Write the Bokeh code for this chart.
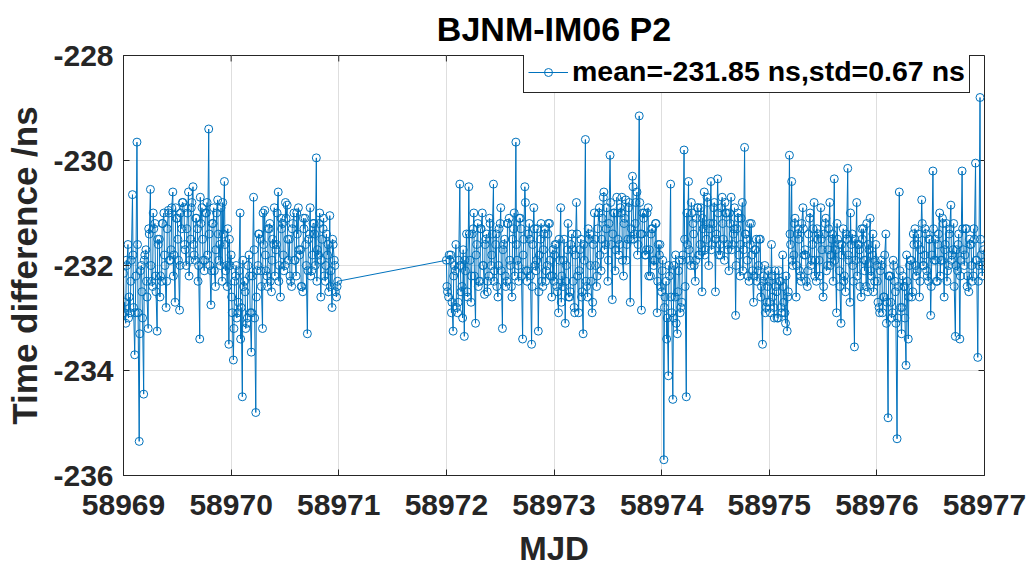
import numpy as np
from bokeh.plotting import figure
from bokeh.models import (Range1d, FixedTicker, NumeralTickFormatter, Legend, LegendItem)
from bokeh.embed import file_html
from bokeh.resources import INLINE

# ---------------- data ----------------
TITLE = "BJNM-IM06 P2"
X_LABEL = "MJD"
Y_LABEL = "Time difference /ns"
LEGEND_LABEL = "mean=-231.85 ns,std=0.67 ns"
X_TICKS = [58969, 58970, 58971, 58972, 58973, 58974, 58975, 58976, 58977]
Y_TICKS = [-236, -234, -232, -230, -228]

SAMPLES_PER_DAY = 96          # main readings, every 15 min
EXTRA_PER_DAY = 48            # additional readings inside the dense band
EXTRA_PHASE = 0.25            # position of the additional readings within their slot
SEG1_START = 58969.0          # first block of data (MJD)
SEG2_START = 58972.0          # second block of data (MJD)

SEG1_VALUES = [
    # MJD 58969
    -232.15, -232.7, -233.1, -232.0, -231.6, -232.6, -232.9, -231.9, -230.65, -232.8,
    -233.7, -232.2, -229.65, -232.9, -235.35, -232.1, -232.0, -233.0, -234.45, -231.8,
    -231.7, -232.6, -233.2, -231.4, -230.55, -232.3, -232.4, -231.3, -231.2, -232.5,
    -233.25, -231.6, -231.5, -232.2, -232.3, -231.2, -231.0, -232.0, -232.8, -231.3,
    -230.95, -231.9, -231.9, -230.9, -230.6, -231.8, -232.7, -231.1, -231.1, -231.9,
    -232.85, -231.0, -231.3, -230.8, -230.9, -231.7, -232.0, -231.0, -230.6, -231.9,
    -231.5, -230.8, -230.5, -231.8, -231.9, -231.1, -231.3, -232.0, -233.4, -231.2,
    -230.9, -231.9, -232.1, -231.0, -231.0, -231.8, -229.4, -232.0, -232.75, -231.2,
    -231.2, -232.1, -232.4, -231.0, -230.75, -231.9, -231.6, -230.9, -232.3, -231.4,
    -230.4, -232.1, -232.0, -231.3, -233.5, -232.0,
    # MJD 58970
    -231.8, -232.9, -233.8, -232.3, -232.2, -233.0, -232.9, -232.1, -231.0, -232.8,
    -234.5, -232.4, -232.3, -233.2, -233.1, -232.0, -231.8, -232.9, -233.65, -232.2,
    -230.7, -233.0, -234.8, -232.1, -232.0, -231.4, -231.5, -232.4, -233.2, -231.6,
    -230.95, -232.1, -232.2, -231.3, -231.3, -232.3, -232.5, -231.5, -231.6, -232.2,
    -231.7, -231.0, -230.6, -232.0, -232.6, -231.3, -231.2, -232.1, -232.0, -231.1,
    -230.85, -231.9, -231.5, -232.3, -232.4, -231.2, -231.0, -231.9, -232.2, -231.4,
    -230.9, -231.8, -231.7, -232.4, -232.5, -231.3, -231.1, -232.0, -233.3, -231.5,
    -231.4, -232.2, -232.1, -231.2, -231.2, -232.0, -229.95, -231.7, -231.8, -231.0,
    -232.6, -231.5, -231.3, -232.2, -232.3, -231.4, -231.8, -232.5, -231.05, -232.1,
    -232.8, -231.6, -231.9, -232.5, -232.6, -232.3,
]

SEG1_EXTRA = [
    # MJD 58969
    -232.9, -231.9, -233.0, -232.3, -231.8, -232.9, -231.6, -233.3, -232.5, -231.9,
    -232.3, -231.3, -232.0, -231.0, -232.2, -231.5, -232.6, -231.2, -231.8, -232.3,
    -231.0, -231.7, -232.2, -230.9, -231.5, -232.0, -230.8, -231.6, -231.3, -232.2,
    -230.9, -231.6, -231.1, -232.3, -230.7, -231.5, -231.9, -230.8, -231.4, -232.1,
    -230.9, -231.7, -231.4, -232.0, -230.8, -231.6, -232.4, -231.5,
    # MJD 58970
    -232.6, -233.2, -232.0, -232.7, -233.4, -231.9, -232.5, -233.0, -232.2, -232.9,
    -231.7, -232.6, -231.4, -232.1, -231.0, -231.8, -232.4, -231.2, -231.9, -230.9,
    -231.6, -232.3, -231.1, -231.8, -230.8, -231.5, -232.2, -231.3, -231.9, -231.0,
    -231.7, -232.4, -231.1, -231.6, -232.1, -230.9, -231.8, -231.4, -232.3, -231.2,
    -231.9, -231.1, -232.0, -231.6, -232.4, -231.5, -232.0, -232.4,
]

SEG2_VALUES = [
    # MJD 58972
    -231.9, -232.5, -232.6, -231.9, -231.8, -232.7, -233.25, -232.0, -232.1, -232.8,
    -232.9, -231.9, -230.45, -232.5, -232.4, -231.7, -233.35, -232.1, -231.4, -232.6,
    -230.5, -231.9, -232.7, -231.4, -231.3, -232.2, -233.1, -231.6, -231.2, -232.3,
    -232.3, -231.3, -231.0, -232.0, -232.55, -231.5, -231.4, -232.3, -232.2, -231.2,
    -232.0, -231.4, -230.45, -232.1, -231.6, -232.4, -232.6, -231.3, -231.2, -232.1,
    -233.2, -231.6, -231.5, -232.4, -232.3, -231.2, -231.1, -232.0, -232.4, -231.5,
    -231.3, -232.2, -229.65, -231.9, -232.0, -231.1, -231.1, -232.2, -233.4, -231.5,
    -230.5, -232.1, -232.3, -231.4, -231.2, -232.2, -233.5, -231.6, -230.9, -232.0,
    -232.1, -231.3, -233.25, -231.8, -231.5, -232.3, -232.4, -231.4, -231.3, -232.1,
    -232.0, -231.2, -231.2, -232.2, -232.6, -231.7,
    # MJD 58973
    -232.3, -231.6, -231.6, -232.5, -232.9, -231.9, -230.9, -232.2, -232.4, -231.5,
    -233.1, -232.0, -231.7, -232.6, -232.6, -231.6, -231.4, -232.3, -232.8, -231.8,
    -230.8, -232.2, -232.9, -231.7, -231.5, -232.5, -233.3, -231.9, -229.6, -232.4,
    -232.6, -231.5, -231.4, -232.3, -232.9, -231.6, -231.0, -232.0, -232.4, -231.3,
    -231.0, -231.8, -232.1, -231.1, -230.7, -231.7, -231.6, -230.9, -232.3, -231.2,
    -229.9, -231.6, -232.65, -231.0, -231.0, -231.7, -230.7, -231.5, -231.8, -230.9,
    -231.0, -231.9, -232.2, -231.1, -230.75, -231.6, -231.5, -230.8, -232.7, -231.3,
    -230.3, -231.5, -231.4, -230.8, -230.6, -231.6, -229.15, -231.4, -232.85, -231.0,
    -231.1, -231.8, -231.8, -231.0, -230.9, -231.7, -232.2, -231.3, -231.3, -232.0,
    -231.9, -231.2, -232.9, -231.6, -231.8, -232.4,
    # MJD 58974
    -232.5, -231.9, -235.7, -232.6, -232.3, -233.0, -234.1, -232.2, -230.45, -232.9,
    -234.55, -232.0, -232.6, -233.1, -233.3, -232.1, -231.9, -232.8, -232.7, -231.8,
    -229.8, -232.4, -234.5, -231.6, -230.4, -231.9, -232.0, -231.0, -231.2, -232.0,
    -232.3, -231.1, -230.9, -231.8, -231.8, -230.9, -232.5, -231.3, -230.6, -231.7,
    -231.5, -230.8, -232.0, -231.2, -230.4, -231.6, -231.2, -230.8, -232.5, -231.4,
    -230.35, -231.8, -231.6, -230.9, -230.7, -231.5, -231.9, -231.0, -231.0, -231.7,
    -232.1, -231.2, -230.7, -231.6, -231.4, -230.9, -232.95, -231.3, -231.0, -231.8,
    -232.2, -231.1, -230.8, -231.7, -229.75, -231.4, -231.5, -232.2, -232.3, -231.6,
    -231.2, -232.1, -232.7, -231.7, -231.7, -232.3, -232.1, -231.5, -231.5, -232.4,
    -233.5, -232.2, -232.0, -232.8, -232.7, -232.1,
    # MJD 58975
    -232.3, -232.9, -231.6, -232.6, -232.8, -232.1, -232.4, -233.0, -233.0, -232.3,
    -232.3, -232.9, -231.8, -232.7, -232.9, -232.2, -233.25, -232.5, -229.9, -231.6,
    -230.4, -232.0, -231.8, -231.1, -232.6, -231.4, -231.3, -232.1, -232.2, -231.2,
    -230.9, -231.8, -231.7, -232.3, -232.4, -231.4, -231.1, -232.0, -231.9, -231.3,
    -230.8, -231.9, -232.3, -231.5, -231.4, -232.2, -230.9, -231.7, -232.6, -231.4,
    -231.2, -232.1, -232.0, -231.3, -230.8, -231.8, -231.5, -232.3, -230.35, -231.7,
    -232.9, -231.5, -231.6, -232.4, -233.1, -231.8, -231.3, -232.2, -232.5, -231.5,
    -230.15, -231.9, -232.7, -231.6, -231.4, -232.3, -233.55, -231.9, -230.8, -231.6,
    -231.6, -232.4, -232.6, -231.5, -231.3, -232.1, -231.9, -231.2, -232.5, -231.7,
    -231.1, -232.2, -231.8, -232.5, -232.3, -231.6,
    # MJD 58976
    -232.0, -232.7, -232.8, -232.1, -231.9, -232.9, -232.6, -231.8, -231.4, -232.7,
    -234.9, -232.2, -232.2, -233.0, -232.9, -232.0, -232.3, -233.1, -235.3, -232.4,
    -230.6, -232.8, -233.3, -232.2, -232.4, -233.0, -233.9, -232.3, -233.4, -232.0,
    -231.9, -232.6, -232.5, -231.6, -231.3, -232.2, -232.1, -231.4, -232.6, -231.7,
    -230.75, -232.0, -232.0, -231.3, -231.4, -232.2, -232.3, -231.5, -232.95, -231.8,
    -230.2, -231.9, -231.5, -232.3, -232.3, -231.4, -231.0, -231.9, -231.9, -231.2,
    -232.6, -231.6, -231.2, -232.1, -232.0, -231.3, -230.85, -231.8, -231.7, -232.4,
    -233.35, -231.7, -232.1, -231.4, -233.4, -231.9, -230.2, -231.7, -232.0, -231.3,
    -231.3, -232.2, -232.5, -231.6, -231.6, -232.3, -232.2, -231.5, -230.05, -231.9,
    -233.75, -232.0, -228.8, -231.8, -232.2, -231.7,
]

SEG2_EXTRA = [
    # MJD 58972
    -232.4, -231.8, -232.9, -232.2, -231.6, -232.7, -232.0, -233.0, -231.9, -232.5,
    -231.4, -232.2, -231.0, -231.8, -232.4, -231.3, -232.0, -231.6, -232.5, -231.1,
    -231.8, -232.3, -231.4, -232.0, -230.9, -231.7, -232.2, -231.2, -231.9, -232.6,
    -231.0, -231.6, -232.3, -231.3, -231.8, -230.8, -232.1, -231.5, -232.4, -231.3,
    -231.9, -232.5, -231.2, -231.7, -232.3, -231.4, -231.9, -232.2,
    # MJD 58973
    -231.8, -232.4, -231.5, -232.7, -231.9, -232.3, -231.2, -232.5, -231.7, -232.9,
    -231.4, -232.1, -232.6, -231.6, -232.3, -231.3, -232.0, -232.7, -231.5, -232.2,
    -230.9, -231.5, -230.6, -231.3, -231.9, -230.8, -231.4, -232.1, -231.0, -231.6,
    -230.7, -231.2, -231.9, -230.9, -231.5, -230.5, -231.2, -231.8, -230.8, -231.4,
    -231.0, -231.7, -232.2, -231.4, -231.9, -231.2, -232.3, -231.6,
    # MJD 58974
    -232.1, -232.8, -233.4, -232.0, -232.6, -233.0, -231.8, -232.5, -232.9, -231.9,
    -231.5, -231.0, -231.7, -230.8, -231.4, -231.9, -230.9, -231.6, -231.1, -231.8,
    -230.7, -231.3, -231.7, -230.9, -231.5, -231.0, -231.8, -231.2, -230.8, -231.6,
    -231.0, -231.7, -231.3, -232.0, -231.1, -231.6, -232.1, -231.4, -231.9, -231.2,
    -231.8, -232.2, -231.5, -232.0, -232.6, -232.3, -232.9, -232.4,
    # MJD 58975
    -232.7, -232.2, -233.0, -232.5, -232.1, -232.8, -232.4, -233.1, -232.6, -231.4,
    -231.9, -231.2, -232.0, -231.5, -232.3, -231.3, -231.8, -232.1, -231.0, -231.6,
    -232.2, -231.3, -231.9, -231.5, -232.4, -231.1, -231.7, -232.0, -231.4, -231.9,
    -231.2, -232.1, -231.6, -232.3, -231.4, -231.8, -231.0, -232.0, -231.5, -232.2,
    -231.7, -231.3, -231.9, -232.4, -231.6, -232.1, -231.4, -231.9,
    # MJD 58976
    -232.3, -232.9, -232.0, -232.6, -233.1, -232.2, -232.7, -231.9, -232.5, -233.0,
    -232.1, -232.8, -232.4, -231.8, -232.6, -231.9, -231.4, -232.0, -231.6, -232.3,
    -231.2, -231.8, -232.1, -231.5, -232.4, -231.3, -231.9, -231.6, -232.2, -231.1,
    -231.7, -232.3, -231.4, -231.9, -231.2, -232.0, -231.6, -232.2, -231.3, -231.8,
    -232.4, -231.5, -232.0, -231.3, -231.9, -232.3, -231.5, -232.0,
]

# sampling times of each block, merged in time order
def block_times(start, values, per_day, phase=0.0):
    return start + (np.arange(len(values)) + phase) / per_day

t_all = np.concatenate([
    block_times(SEG1_START, SEG1_VALUES, SAMPLES_PER_DAY),
    block_times(SEG1_START, SEG1_EXTRA, EXTRA_PER_DAY, EXTRA_PHASE),
    block_times(SEG2_START, SEG2_VALUES, SAMPLES_PER_DAY),
    block_times(SEG2_START, SEG2_EXTRA, EXTRA_PER_DAY, EXTRA_PHASE),
])
v_all = np.array(SEG1_VALUES + SEG1_EXTRA + SEG2_VALUES + SEG2_EXTRA)
order = np.argsort(t_all, kind="stable")
mjd = t_all[order]
diff = v_all[order]

# ---------------- styling ----------------
FONT = "Liberation Sans"
BLUE = "#0072BD"
DARK = "#262626"
GRID = "#dedede"
FRAME_W, FRAME_H = 861, 422     # approximate plot-area size in px (for tick length)
TICK_PX = 6

p = figure(width=1032, height=569,
           x_range=Range1d(X_TICKS[0], X_TICKS[-1]),
           y_range=Range1d(Y_TICKS[0], Y_TICKS[-1]),
           min_border_left=123, min_border_right=48,
           min_border_top=53, min_border_bottom=94,
           output_backend="svg", toolbar_location=None)

p.background_fill_color = "white"
p.border_fill_color = "white"
p.outline_line_color = DARK
p.outline_line_width = 1
p.outline_line_alpha = 1

p.title.text = TITLE
p.title.align = "center"
p.title.text_font = FONT
p.title.text_font_style = "bold"
p.title.text_font_size = "34px"
p.title.text_color = "black"
p.title.standoff = 15

xa = p.below[0]
ya = p.left[0]
for ax, ticks in ((xa, X_TICKS), (ya, Y_TICKS)):
    ax.ticker = FixedTicker(ticks=ticks)
    ax.formatter = NumeralTickFormatter(format="0")
    ax.major_label_text_font = FONT
    ax.major_label_text_font_style = "bold"
    ax.major_label_text_font_size = "30px"
    ax.major_label_text_color = DARK
    ax.major_tick_in = TICK_PX
    ax.major_tick_out = 0
    ax.minor_tick_in = 0
    ax.minor_tick_out = 0
    ax.axis_line_color = DARK
    ax.major_tick_line_color = DARK
    ax.axis_label_text_font = FONT
    ax.axis_label_text_font_style = "bold"
    ax.axis_label_text_color = DARK
xa.major_label_standoff = 19
ya.major_label_standoff = 10
xa.axis_label = X_LABEL
ya.axis_label = Y_LABEL
xa.axis_label_text_font_size = "33px"
ya.axis_label_text_font_size = "35px"
xa.axis_label_standoff = 12
ya.axis_label_standoff = 6

p.xgrid.grid_line_color = GRID
p.ygrid.grid_line_color = GRID
p.xgrid.grid_line_width = 1
p.ygrid.grid_line_width = 1

# mirrored inward ticks on the top and right edges of the box
x_span = X_TICKS[-1] - X_TICKS[0]
y_span = Y_TICKS[-1] - Y_TICKS[0]
p.segment(x0=X_TICKS, y0=[Y_TICKS[-1]] * len(X_TICKS), x1=X_TICKS,
          y1=[Y_TICKS[-1] - TICK_PX * y_span / FRAME_H] * len(X_TICKS),
          line_color=DARK, line_width=1)
p.segment(x0=[X_TICKS[-1]] * len(Y_TICKS), y0=Y_TICKS,
          x1=[X_TICKS[-1] - TICK_PX * x_span / FRAME_W] * len(Y_TICKS), y1=Y_TICKS,
          line_color=DARK, line_width=1)

line_r = p.line(mjd, diff, line_color=BLUE, line_width=1)
pts_r = p.scatter(mjd, diff, marker="circle", size=8, fill_color=None,
                  line_color=BLUE, line_width=1)

legend = Legend(items=[LegendItem(label=LEGEND_LABEL, renderers=[line_r, pts_r])],
                location=(400, 382), margin=0, padding=4, spacing=0,
                glyph_width=40, glyph_height=20, label_standoff=4,
                label_text_font=FONT, label_text_font_style="bold",
                label_text_font_size="28.5px", label_text_color="black",
                border_line_color=DARK, border_line_width=1, border_line_alpha=1,
                background_fill_color="white", background_fill_alpha=1)
p.add_layout(legend)

open("out.html", "w").write(file_html(p, INLINE))
